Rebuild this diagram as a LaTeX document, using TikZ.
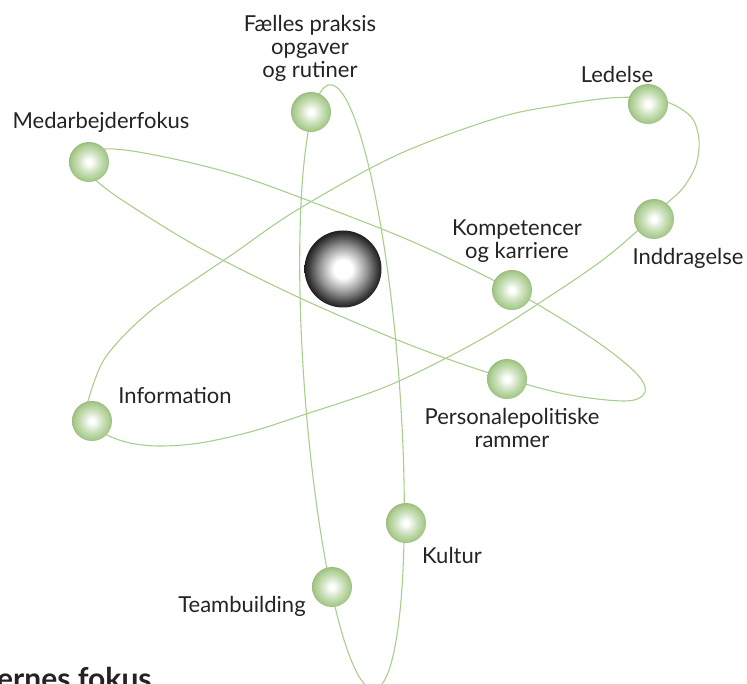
\documentclass[tikz,border=0pt]{standalone}
\usepackage{fontspec}
\setmainfont{Lato}
\usepackage{tikz}
\usetikzlibrary{calc, math}
\usetikzlibrary{positioning}

\definecolor{orbitgreen}{RGB}{168,206,140}
\definecolor{ballgreen}{RGB}{166,202,138}
\definecolor{labelgray}{RGB}{38,34,35}

\pgfdeclareradialshading{greenball}{\pgfpoint{0bp}{0bp}}{%
  color(0bp)=(white); color(3bp)=(white); color(13bp)=(ballgreen!55!white);
  color(23bp)=(ballgreen); color(25bp)=(ballgreen!92!black); color(50bp)=(ballgreen!92!black)}
\pgfdeclareradialshading{nucleusshade}{\pgfpoint{0bp}{0bp}}{%
  color(0bp)=(white); color(6bp)=(white); color(15bp)=(black!40);
  color(22bp)=(black!75); color(25bp)=(black!88); color(50bp)=(black!88)}

\begin{document}
\begin{tikzpicture}[x=1pt, y=-1pt,
  orbit/.style={draw=orbitgreen, line width=1.1pt},
  planet/.style={circle, minimum size=40pt, inner sep=0pt, shading=greenball},
  core/.style={circle, minimum size=77pt, inner sep=0pt, shading=nucleusshade},
  balltext/.style={text=labelgray, font=\fontsize{22}{23}\selectfont, align=center, inner sep=0pt, anchor=north}]
  \useasboundingbox (0,0) rectangle (747,684);
  \clip (0,0) rectangle (747,684);

  % orbits
  \draw[orbit, rotate around={4.2:(352,387)}] (352,387) ellipse [x radius=47.5, y radius=303];
  \draw[orbit] plot[smooth cycle, tension=0.55] coordinates {
    (78,162) (105,149) (160,156) (240,176) (333,210) (420,245) (512,290)
    (590,337) (635,372) (645,392) (625,401) (560,393) (480,370) (400,341)
    (300,298) (200,248) (122,200) (92,177)};
  \draw[orbit] plot[smooth cycle, tension=0.55] coordinates {
    (86,410) (100,367) (117,343) (140,320) (165,300) (230,256) (297,210)
    (397,155) (497,118) (560,105) (610,98) (648,98) (672,104) (692,118)
    (699,140) (696,165) (683,188) (665,205) (635,233) (600,262) (547,298)
    (480,340) (390,385) (300,416) (250,432) (200,443) (160,446) (130,443)
    (107,435) (92,424)};

  % balls
  \foreach \name/\x/\y in {faelles/311/112, medarb/89/162, ledelse/648/104,
      inddrag/654/219, kompet/512/290, personale/507/379, info/92/421,
      kultur/406/523, team/332/587} {
    \node[planet] (\name) at (\x,\y) {};
  }
  \node[core] (nucleus) at (343,269) {};

  % labels
  \node[balltext] (faelleslbl) at (310,15) {Fælles praksis\\opgaver\\og rutiner};
  \node[balltext] (medarblbl) at (101,112) {Medarbejderfokus};
  \node[balltext] (ledelselbl) at (617,66) {Ledelse};
  \node[balltext] (kompetlbl) at (517,220) {Kompetencer\\og karriere};
  \node[balltext] (inddraglbl) at (688,248) {Inddragelse};
  \node[balltext] (infolbl) at (175,387) {Information};
  \node[balltext] (personalelbl) at (512,408) {Personalepolitiske\\rammer};
  \node[balltext] (kulturlbl) at (452,547) {Kultur};
  \node[balltext] (teamlbl) at (242,596) {Teambuilding};
  \node[text=labelgray, font=\bfseries\fontsize{30}{33}\selectfont, inner sep=0pt, anchor=base west] (fokuslbl) at (-3,689) {ernes fokus};
\end{tikzpicture}
\end{document}
